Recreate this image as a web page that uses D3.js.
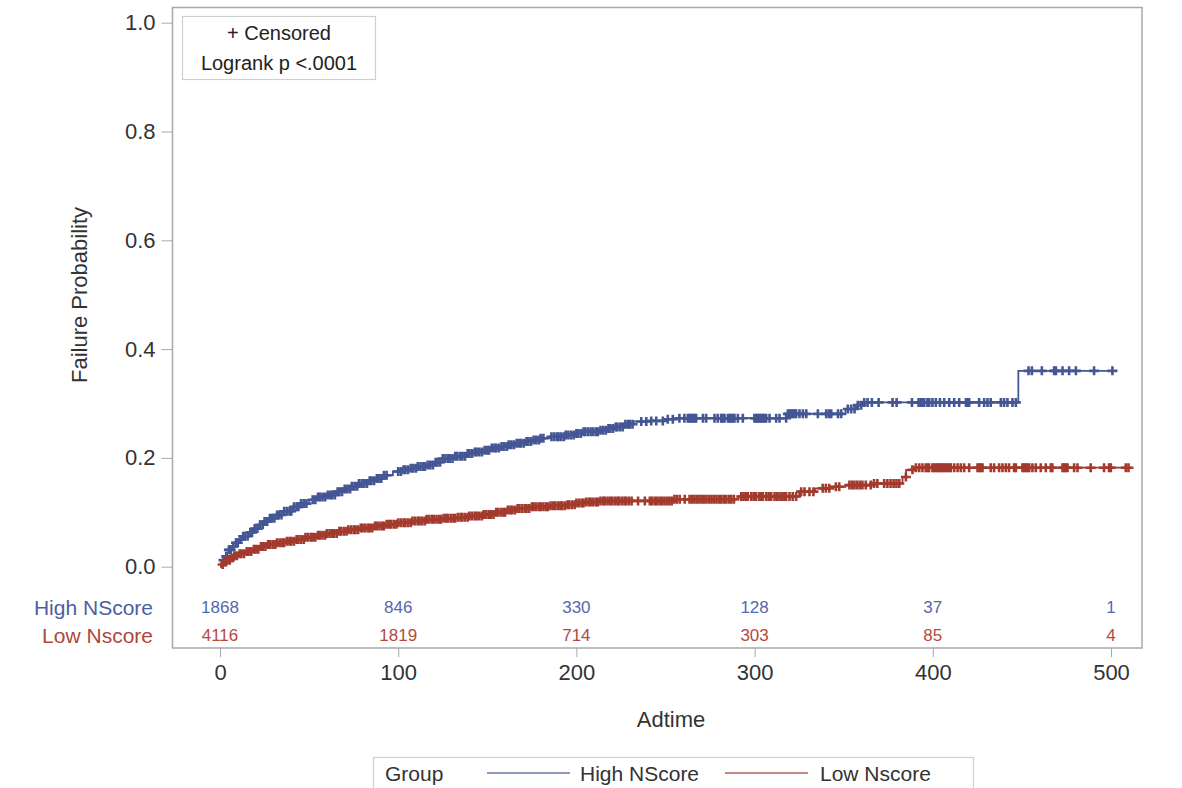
<!DOCTYPE html>
<html>
<head>
<meta charset="utf-8">
<script src="https://cdn.jsdelivr.net/npm/d3@7"></script>
<style>
  body { margin: 0; background: #fff; }
  svg { font-family: "Liberation Sans", Arial, sans-serif; }
</style>
</head>
<body>
<svg id="chart" width="1182" height="788"></svg>
<script>
// step points [time, failure probability]
var hiSteps = [[0,0],[1,0.006],[2,0.012],[3,0.019],[4,0.025],[5,0.031],[7,0.037],[9,0.044],[11,0.050],
  [13,0.056],[16,0.063],[19,0.070],[22,0.077],[25,0.083],[28,0.089],[32,0.095],[36,0.102],[41,0.110],
  [45,0.116],[50,0.123],[55,0.128],[60,0.132],[65,0.138],[69,0.143],[74,0.148],[78,0.153],[83,0.158],
  [88,0.162],[92,0.168],[97,0.175],[102,0.178],[107,0.181],[111,0.184],[116,0.187],[120,0.192],
  [125,0.199],[132,0.203],[138,0.208],[143,0.211],[148,0.214],[152,0.218],[157,0.221],[162,0.224],
  [166,0.227],[171,0.230],[176,0.233],[180,0.236],[185,0.239],[194,0.242],[199,0.245],[204,0.248],
  [213,0.251],[218,0.254],[222,0.257],[227,0.262],[232,0.267],[241,0.268],[250,0.271],[256,0.273],
  [318,0.281],[351,0.290],[357,0.297],[361,0.302],[448,0.360]];

var loSteps = [[0,0],[1,0.004],[2,0.008],[4,0.012],[6,0.016],[8,0.020],[11,0.024],[14,0.028],[18,0.032],
  [22,0.037],[27,0.041],[32,0.044],[37,0.047],[42,0.050],[48,0.054],[54,0.058],[60,0.061],[66,0.065],
  [72,0.068],[79,0.071],[86,0.075],[93,0.078],[100,0.081],[108,0.084],[116,0.087],[125,0.089],
  [133,0.091],[140,0.093],[148,0.096],[155,0.100],[161,0.104],[167,0.107],[175,0.110],[185,0.112],
  [194,0.114],[200,0.117],[205,0.119],[213,0.121],[255,0.124],[291,0.129],[325,0.138],[334,0.144],
  [342,0.147],[351,0.150],[366,0.153],[383,0.165],[385,0.178],[390,0.182]];

// censored times
var hiCensor = [2,3.5,5,6,7.5,9,10,11.5,13,14,15.5,17,18,19.5,21,22.5,24,25,26.5,28,29,30.5,32,33,34.5,
  36,37.5,39,40,41.5,43,44,45.5,47,48.5,52,53.5,55,56,57.5,59,60.5,62,63,64.5,66,67,68.5,70,71.5,73,74,
  75.5,77,78,79.5,81,82.5,84,85,86.5,88,89,90.5,92,93.5,100,101.5,103,104,105.5,107,108.5,110,111,112.5,
  114,115,116.5,118,119.5,121,122,123.5,125,126.5,128,129,130.5,132,133,134.5,136,137.5,139,140,141.5,
  143,144,145.5,147,148.5,150,151,152.5,154,155,156.5,158,159.5,161,162,163.5,165,166.5,168,169,170.5,
  172,173,174.5,176,177.5,179,180,181.5,186,187.5,189,190,191.5,193,194,195.5,197,198.5,200,201,202.5,
  204,205,206.5,208,209.5,211,212,213.5,215,216.5,218,219,220.5,222,223,224.5,226,227.5,229,230,231.5,
  236.4,239.2,242,244.8,248.5,251.3,254.1,257.8,260.6,262.5,263.5,264.4,265.4,266.3,267.2,271,272.8,
  277.5,279.3,281.2,282.1,283.1,285,285.9,286.8,287.8,288.7,290.6,293.4,299.9,300.9,301.8,302.7,303.7,
  304.6,305.5,306.5,308.4,312.1,314,317.7,318.7,319.6,320.5,321.5,322.4,323.3,325.2,327.1,329,335.5,
  340.2,341.7,343,346.8,348.6,352.3,354.2,356.1,357.9,359.8,361.5,363.4,365.8,369.6,377.4,379.7,388.3,
  392,393.3,394.2,395.2,397,398,399.8,401.7,404,406.4,409.2,412,414.8,418.6,419.5,420.4,426,428.8,430.7,
  432.5,438.2,440,441.9,444.7,446.6,453.7,455.6,461.2,468.1,469.1,472.8,476.5,480.3,490.5,500.8];

var loCensor = [1.5,3,4,5.5,7,8,9.5,11,12,13.5,15,16,17.5,19,20,21.5,23,24,25.5,27,28,29.5,31,32,33.5,
  35,36,37.5,39,40,41.5,43,44,45.5,47,48,49.5,51,52,53.5,55,56,57.5,59,60,61.5,63,64,65.5,67,68,69.5,71,
  72,73.5,75,76,77.5,79,80,81.5,83,84,85.5,87,88,89.5,91,92,93.5,95,96,97.5,99,100,101.5,103,104,105.5,
  107,108,109.5,111,112,113.5,115,116,117.5,119,120,121.5,123,124,125.5,127,128,129.5,131,132,133.5,
  135,136,137.5,139,140,141.5,143,144,145.5,147,148,149.5,151,152,153.5,155,156,157.5,159,160,161.5,
  163,164,165.5,167,168,169.5,171,172,173.5,175,176,177.5,179,180,181.5,183,184,185.5,187,188,189.5,
  191,192,193.5,195,196,197.5,199,200,201.5,203,204,205.5,207,208,209.5,211,212,213.5,215,216,217.5,
  219,220,221.5,223,224,225.5,227,228,229.5,231,234.6,238.4,241.2,242.5,244,245.3,246.7,248,249.4,
  250.8,252.2,253.5,255,256.4,258,260.8,263.5,264.8,266.2,267.5,269,270.3,271.7,273,274.5,275.8,277.2,
  278.6,280,281.3,282.7,284,285.5,286.9,288.4,292.5,293.8,295,296.2,298.1,299.5,300.9,302.7,303.7,304.6,
  306.5,307.9,309.3,311.2,312.6,314,315.4,316.7,317.7,319.6,321.4,323.3,326.1,328,330.8,333,338.2,340,
  341.9,345.6,347.5,353.2,354.6,356,357.5,359,360.5,362.4,365.2,367,368.9,372.7,374.5,376.3,378,379.6,
  381.2,384.9,388.6,390.5,392.4,394.2,396,397,397.9,399.8,400.7,401.7,402.6,403.6,404.5,405.4,406.4,
  407.3,408.3,409.2,410.1,412,413.9,415.7,417.6,420.4,425.1,426,426.9,427.9,432.5,434.4,437.2,439.1,
  441,442.8,445.6,446.6,450.3,451.2,452.2,453.1,454.1,455.9,457.8,460.6,463.4,466.2,467.1,472.8,473.7,
  474.6,475.6,479.3,481.2,488.6,496.1,498.9,499.9,508.3,509.8];

var riskTimes = [0, 100, 200, 300, 400, 500];
var hiRisk = [1868, 846, 330, 128, 37, 1];
var loRisk = [4116, 1819, 714, 303, 85, 4];
var yTicks = [0, 0.2, 0.4, 0.6, 0.8, 1.0];
var xTicks = [0, 100, 200, 300, 400, 500];

var blue = "#445694", red = "#a23a2e";

var frame = { left: 172.5, top: 7.5, right: 1142, bottom: 648 };

var x = d3.scaleLinear().domain([0, 500]).range([220, 1111]);
var y = d3.scaleLinear().domain([0, 1]).range([566.7, 22.7]);

var svg = d3.select("#chart");

svg.append("rect")
  .attr("x", frame.left).attr("y", frame.top)
  .attr("width", frame.right - frame.left).attr("height", frame.bottom - frame.top)
  .attr("fill", "none").attr("stroke", "#a8a8a8").attr("stroke-width", 1.5);

// y axis
var yAxis = d3.axisLeft(y).tickValues(yTicks).tickFormat(d3.format(".1f")).tickSize(11).tickPadding(6);
var gy = svg.append("g").attr("transform", "translate(" + frame.left + ",0)").call(yAxis);
gy.select(".domain").remove();
gy.selectAll("line").attr("stroke", "#a8a8a8");
gy.selectAll("text").attr("font-size", 22).attr("fill", "#333").attr("font-family", "Liberation Sans, Arial");

// x axis
var xAxis = d3.axisBottom(x).tickValues(xTicks).tickSize(9).tickPadding(7);
var gx = svg.append("g").attr("transform", "translate(0," + frame.bottom + ")").call(xAxis);
gx.select(".domain").remove();
gx.selectAll("line").attr("stroke", "#a8a8a8");
gx.selectAll("text").attr("font-size", 22).attr("fill", "#333").attr("font-family", "Liberation Sans, Arial");

svg.append("text").attr("x", 671).attr("y", 727).attr("text-anchor", "middle")
  .attr("font-size", 22).attr("fill", "#333").text("Adtime");
svg.append("text").attr("transform", "translate(87,295) rotate(-90)").attr("text-anchor", "middle")
  .attr("font-size", 22).attr("fill", "#333").text("Failure Probability");

// curves
function stepValue(steps, t) {
  var i = d3.bisector(function(d) { return d[0]; }).right(steps, t) - 1;
  return steps[Math.max(i, 0)][1];
}

var line = d3.line().curve(d3.curveStepAfter)
  .x(function(d) { return x(d[0]); })
  .y(function(d) { return y(d[1]); });

function drawGroup(steps, censor, color) {
  var last = d3.max(censor);
  var pts = steps.concat([[last, stepValue(steps, last)]]);
  var g = svg.append("g");
  g.append("path").datum(pts).attr("d", line)
    .attr("fill", "none").attr("stroke", color).attr("stroke-width", 1.8);
  g.selectAll(".cens").data(censor).enter().append("path")
    .attr("class", "cens")
    .attr("transform", function(t) { return "translate(" + x(t) + "," + y(stepValue(steps, t)) + ")"; })
    .attr("d", "M0,-4.5V4.5M-5,0H5")
    .attr("stroke", color).attr("stroke-width", 2.6).attr("fill", "none");
}

drawGroup(hiSteps, hiCensor, blue);
drawGroup(loSteps, loCensor, red);

// censored / logrank box
svg.append("rect").attr("x", 182.5).attr("y", 16.5).attr("width", 193).attr("height", 63)
  .attr("fill", "#fff").attr("stroke", "#cfcfcf").attr("stroke-width", 1.2);
svg.append("text").attr("x", 279).attr("y", 40).attr("text-anchor", "middle")
  .attr("font-size", 20).attr("fill", "#222").text("+ Censored");
svg.append("text").attr("x", 279).attr("y", 70).attr("text-anchor", "middle")
  .attr("font-size", 20).attr("fill", "#222").text("Logrank p <.0001");

// at-risk table
svg.append("text").attr("x", 153).attr("y", 615).attr("text-anchor", "end")
  .attr("font-size", 21).attr("fill", "#4d5ea3").text("High NScore");
svg.append("text").attr("x", 153).attr("y", 643).attr("text-anchor", "end")
  .attr("font-size", 21).attr("fill", "#b0473d").text("Low Nscore");

svg.append("g").selectAll("text").data(hiRisk).enter().append("text")
  .attr("x", function(d, i) { return x(riskTimes[i]); }).attr("y", 613)
  .attr("text-anchor", "middle").attr("font-size", 17).attr("fill", "#5468ad")
  .text(function(d) { return d; });
svg.append("g").selectAll("text").data(loRisk).enter().append("text")
  .attr("x", function(d, i) { return x(riskTimes[i]); }).attr("y", 641)
  .attr("text-anchor", "middle").attr("font-size", 17).attr("fill", "#b5493f")
  .text(function(d) { return d; });

// legend
var lg = svg.append("g");
lg.append("rect").attr("x", 373.5).attr("y", 757.5).attr("width", 600).attr("height", 40)
  .attr("fill", "#fff").attr("stroke", "#cfcfcf").attr("stroke-width", 1.2);
lg.append("text").attr("x", 385).attr("y", 781).attr("font-size", 21).attr("fill", "#333").text("Group");
lg.append("line").attr("x1", 487).attr("x2", 570).attr("y1", 773).attr("y2", 773)
  .attr("stroke", blue).attr("stroke-width", 1.5).attr("opacity", 0.8);
lg.append("text").attr("x", 580).attr("y", 781).attr("font-size", 21).attr("fill", "#333").text("High NScore");
lg.append("line").attr("x1", 725).attr("x2", 808).attr("y1", 773).attr("y2", 773)
  .attr("stroke", red).attr("stroke-width", 1.5).attr("opacity", 0.8);
lg.append("text").attr("x", 820).attr("y", 781).attr("font-size", 21).attr("fill", "#333").text("Low Nscore");
</script>
</body>
</html>
